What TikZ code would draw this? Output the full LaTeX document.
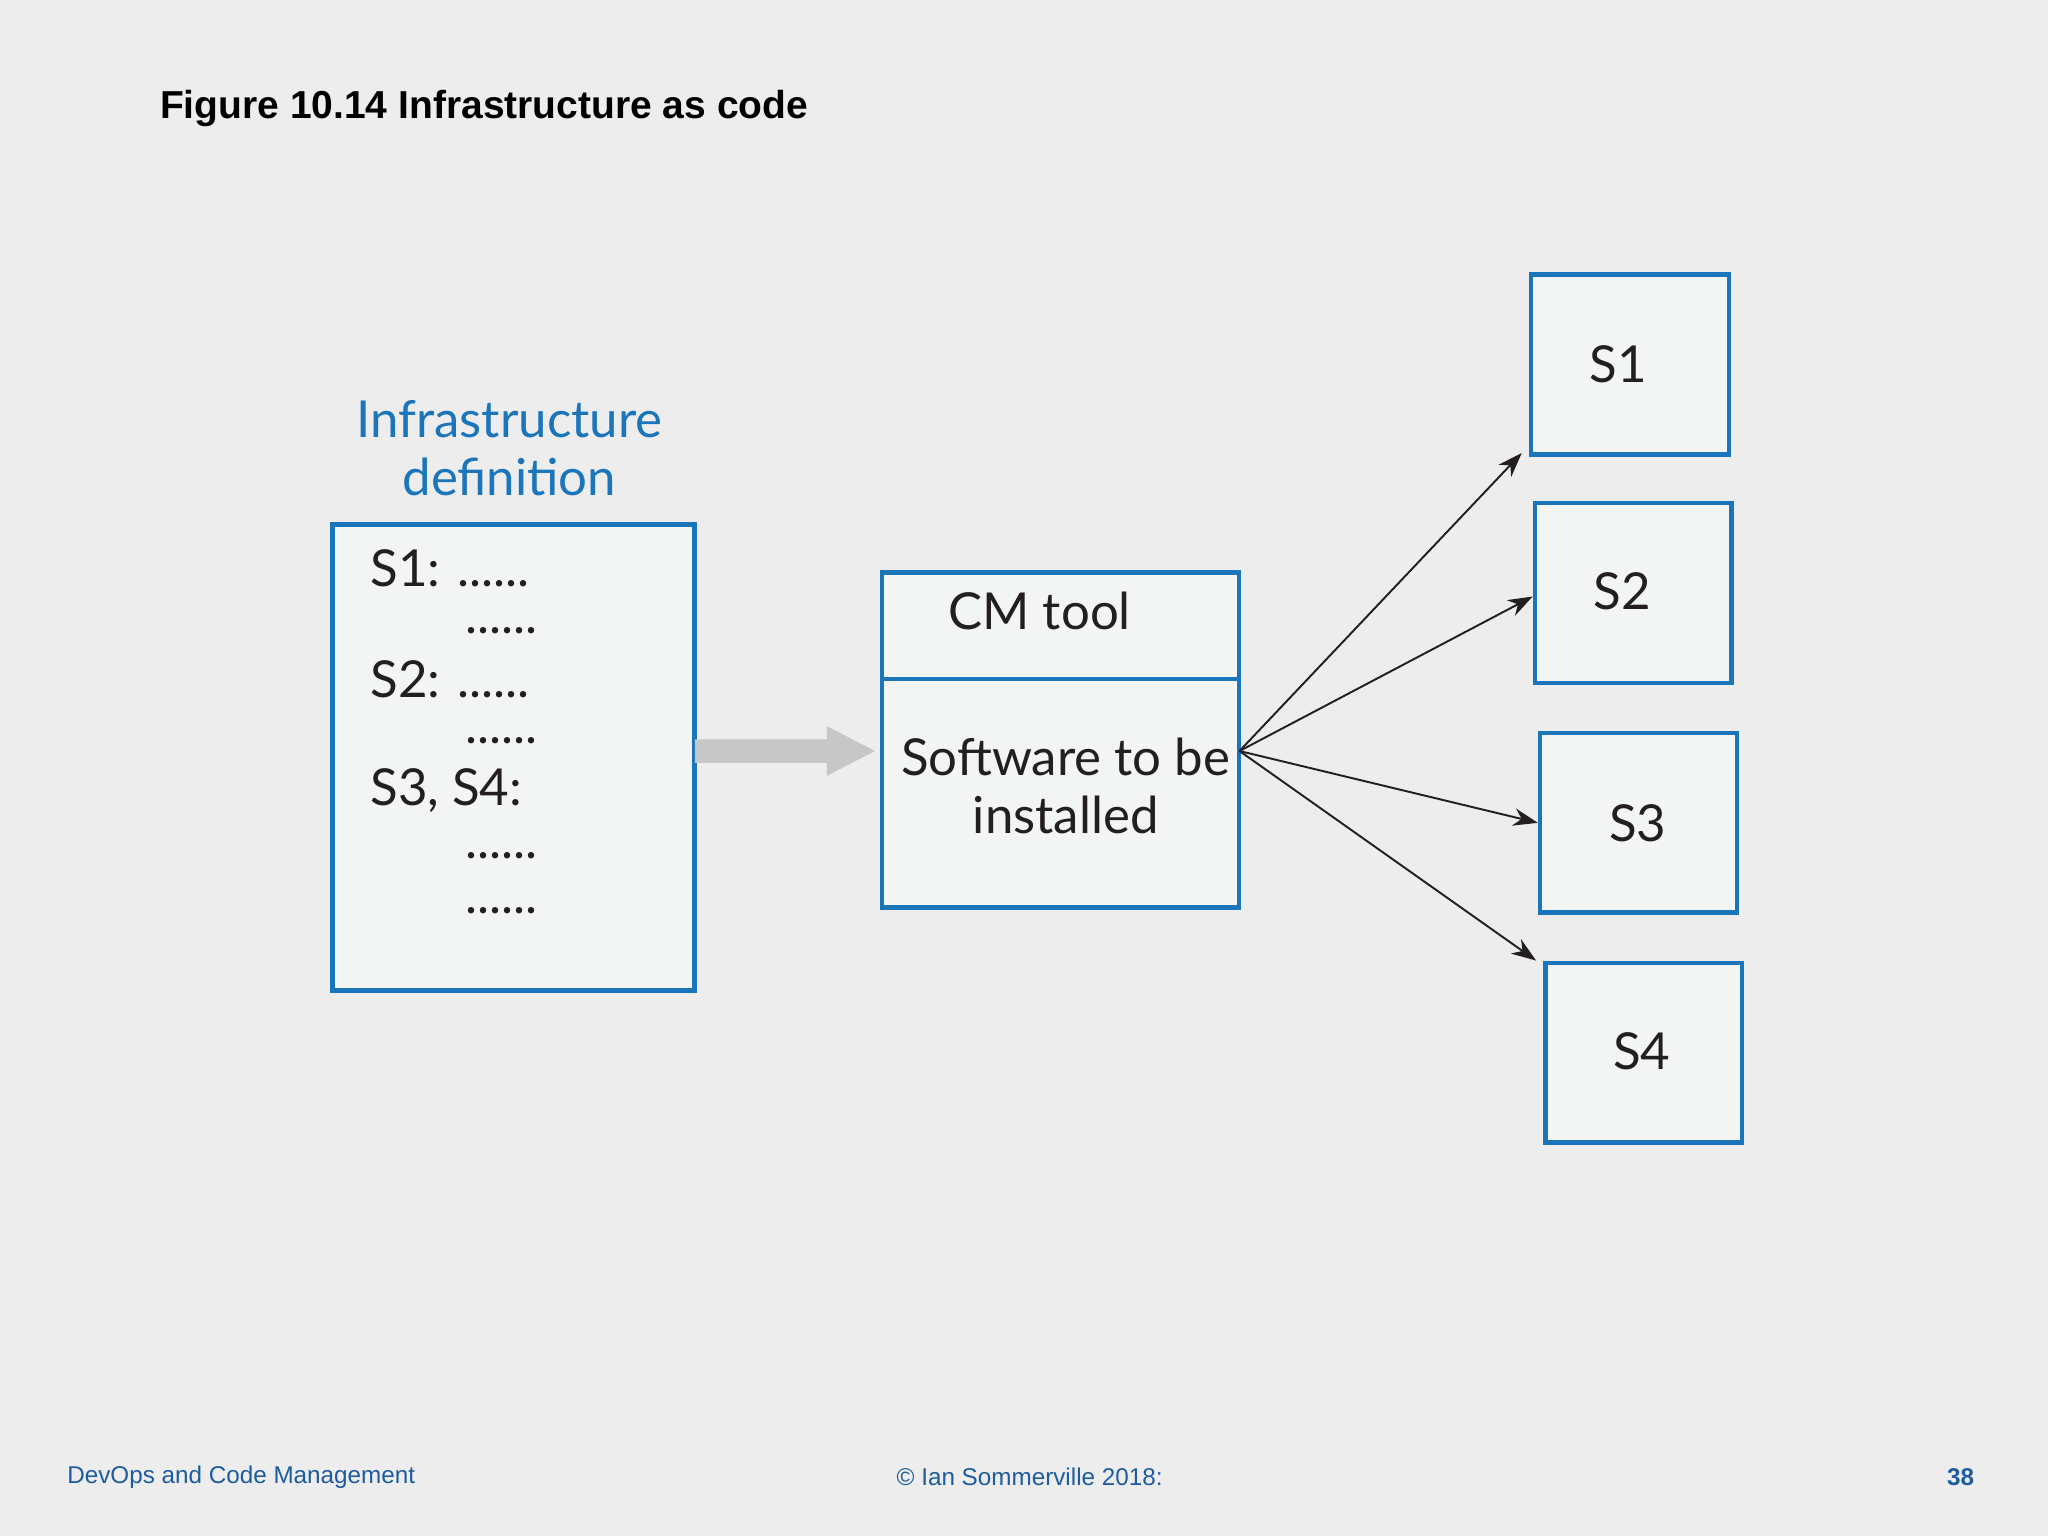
\documentclass[tikz,border=0pt]{standalone}
\usepackage{fontspec}
\setmainfont{Lato}
\newfontfamily\hel{Liberation Sans}
\usetikzlibrary{arrows.meta}
\definecolor{bg}{HTML}{EDEDED}
\definecolor{boxfill}{HTML}{F3F4F4}
\definecolor{bblue}{HTML}{1A75BB}
\definecolor{fblue}{HTML}{1D5C9E}
\definecolor{txt}{HTML}{231F20}
\def\uu{0.3706pt}
\tikzset{
  box/.style={draw=bblue, line width=1.3pt, fill=boxfill, inner sep=0pt},
  dtext/.style={font=\fontsize{14.5}{16.5}\selectfont, text=txt, inner sep=0pt},
  conn/.style={-{Stealth[length=7pt,width=5pt]}, line width=0.55pt, draw=txt},
  foot/.style={font=\hel\fontsize{6.9}{8}\selectfont, text=fblue, inner sep=0pt}
}
\begin{document}
\begin{tikzpicture}[x=0.01306cm,y=-0.01306cm]
\fill[bg] (0,0) rectangle (1568,1176);
\useasboundingbox (0,0) rectangle (1568,1176);
\node[anchor=west, font=\hel\bfseries\fontsize{11.1}{13}\selectfont, inner sep=0pt] (title) at (122,83) {Figure 10.14 Infrastructure as code};
\node[dtext, text=bblue, align=center] (infl) at (390,343) {Infrastructure\\definition};
\node[box, minimum width=278*\uu, minimum height=358*\uu] (inf) at (393,580) {};
\node[dtext, anchor=west] (l1) at (283,435) {S1: ......};
\node[dtext, anchor=west] (l2) at (356,483) {......};
\node[dtext, anchor=west] (l3) at (283,520) {S2: ......};
\node[dtext, anchor=west] (l4) at (356,567) {......};
\node[dtext, anchor=west] (l5) at (283,605) {S3, S4:};
\node[dtext, anchor=west] (l6) at (356,655) {......};
\node[dtext, anchor=west] (l7) at (356,697) {......};
\node[box, minimum width=274*\uu, minimum height=257*\uu] (cm) at (812,566.5) {};
\draw[draw=bblue, line width=1.3pt] (cm.west |- 0,520) -- (cm.east |- 0,520);
\node[dtext] (cmt) at (796,468) {CM tool};
\node[dtext, align=center] (sw) at (816,602) {Software to be\\installed};
\coordinate (src) at (949,575);
\draw[fill=black!22, draw=none] (532,566) -- (633,566) -- (633,556) -- (670,575) -- (633,594) -- (633,584) -- (532,584) -- cycle;
\node[box, minimum width=152*\uu, minimum height=138*\uu] (s1) at (1248,279) {};
\node[box, minimum width=151*\uu, minimum height=138*\uu] (s2) at (1250.5,454) {};
\node[box, minimum width=151*\uu, minimum height=138*\uu] (s3) at (1254.5,630) {};
\node[box, minimum width=151*\uu, minimum height=138*\uu] (s4) at (1258.5,806) {};
\node[dtext] at (1239,279) {S1};
\node[dtext] at (1242,453) {S2};
\node[dtext] at (1254,630) {S3};
\node[dtext] at (1257,805) {S4};
\draw[conn] (src) -- ([xshift=-2pt,yshift=1pt]s1.south west);
\draw[conn] (src) -- ([yshift=-1pt]s2.west);
\draw[conn] (src) -- (s3.west);
\draw[conn] (src) -- ([xshift=-2pt]s4.north west);
\node[foot, anchor=west] (f1) at (51,1131) {DevOps and Code Management};
\node[foot, anchor=west] (f2) at (686,1131) {© Ian Sommerville 2018:};
\node[foot, anchor=east, font=\hel\bfseries\fontsize{6.9}{8}\selectfont] (f3) at (1512,1131) {38};
\end{tikzpicture}
\end{document}
